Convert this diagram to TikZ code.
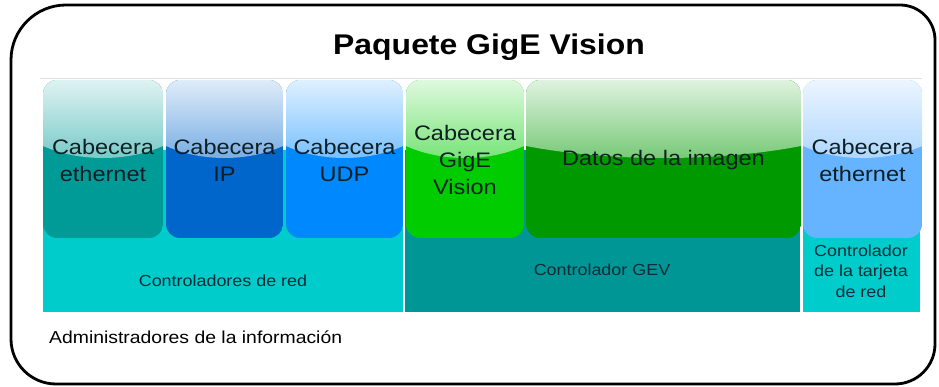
\documentclass[tikz,border=0pt]{standalone}
\usepackage{fontspec}
\setmainfont{Liberation Sans}[FakeStretch=1.12]
\usetikzlibrary{calc}
\definecolor{ceth}{RGB}{0,155,150}
\definecolor{cip}{RGB}{0,102,204}
\definecolor{cudp}{RGB}{0,136,255}
\definecolor{cgige}{RGB}{0,204,0}
\definecolor{cdatos}{RGB}{0,153,0}
\definecolor{ceth2}{RGB}{102,179,255}
\definecolor{cband}{RGB}{0,204,204}
\definecolor{cgev}{RGB}{0,150,150}
\definecolor{boxtxt}{RGB}{15,30,35}
\definecolor{bandtxt}{RGB}{10,45,55}
\newcommand\hdrbox[5]{%
  \begin{scope}
    \clip[rounded corners=14pt] (#2,-80) rectangle (#3,-238);
    \fill[#4] (#2,-80) rectangle (#3,-238);
    \shade[top color=#4!12!white, bottom color=#4!55!white]
      (#2,-79) -- (#3,-79) -- (#3,-146)
      .. controls ({#3-0.3*(#3-#2)},-162) and ({#2+0.3*(#3-#2)},-162) .. (#2,-146) -- cycle;
  \end{scope}
  \node[boxtext] (#1) at ({(#2+#3)/2},-160) {#5};
}
\begin{document}
\begin{tikzpicture}[x=1pt,y=1pt,
  boxtext/.style={align=center, text=boxtxt, inner sep=0pt, font=\fontsize{21}{27}\selectfont},
  bandtext/.style={align=center, text=bandtxt, inner sep=0pt, font=\fontsize{16}{20.5}\selectfont},
  frame/.style={line width=2.8pt, draw=black}]
\useasboundingbox (0,0) rectangle (939,-387);
% outer frame
\draw[frame] (66,-5) -- (900,-5) arc[start angle=90, end angle=0, radius=35]
  -- (935,-344) arc[start angle=0, end angle=-90, radius=40]
  -- (56,-384) arc[start angle=270, end angle=180, radius=45]
  -- (11,-60) arc[start angle=180, end angle=90, radius=55] -- cycle;
\node[font=\fontsize{28.5}{34}\selectfont\bfseries, anchor=base] (title) at (489,-55) {Paquete GigE Vision};
% panel
\fill[white] (40,-78) rectangle (922,-312);
\draw[black!12, line width=0.8pt] (40,-78) -- (922,-78);
% bands
\fill[cband] (43,-150) rectangle (403,-312);
\fill[cgev] (405,-150) rectangle (800,-312);
\fill[cband] (803,-150) rectangle (920,-312);
% header boxes
\hdrbox{eth}{43}{163}{ceth}{Cabecera\\ethernet}
\hdrbox{ip}{166}{283}{cip}{Cabecera\\IP}
\hdrbox{udp}{286}{403}{cudp}{Cabecera\\UDP}
\hdrbox{gige}{406}{524}{cgige}{Cabecera\\GigE\\Vision}
\hdrbox{datos}{526}{801}{cdatos}{Datos de la imagen}
\hdrbox{eth2}{803}{922}{ceth2}{Cabecera\\ethernet}
% band texts
\node[bandtext] (red) at (223,-281) {Controladores de red};
\node[bandtext] (gev) at (602,-270) {Controlador GEV};
\node[bandtext] (nic) at (861,-271) {Controlador\\de la tarjeta\\de red};
\node[anchor=base west, inner sep=0pt, font=\fontsize{17.3}{21}\selectfont] (admin) at (49,-343) {Administradores de la información};
\end{tikzpicture}
\end{document}
